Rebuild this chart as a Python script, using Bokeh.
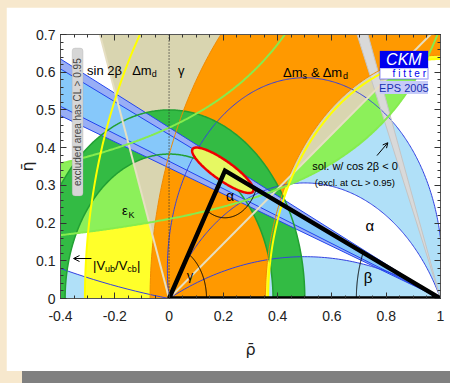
import numpy as np
from bokeh.plotting import figure
from bokeh.models import (Label, Arrow, OpenHead, LinearAxis, FixedTicker,
                          CustomJSTickFormatter, Div, Range1d, BoxAnnotation, Span)
from bokeh.layouts import column
from bokeh.embed import file_html
from bokeh.resources import INLINE

# ---------------- data ----------------
x_ticks = [-0.4, -0.2, 0.0, 0.2, 0.4, 0.6, 0.8, 1.0]
y_ticks = [0.0, 0.1, 0.2, 0.3, 0.4, 0.5, 0.6, 0.7]
x_minor = [-0.4, -0.35, -0.3, -0.25, -0.2, -0.15, -0.1, -0.05, 0.0, 0.05, 0.1, 0.15, 0.2,
           0.25, 0.3, 0.35, 0.4, 0.45, 0.5, 0.55, 0.6, 0.65, 0.7, 0.75, 0.8, 0.85, 0.9, 0.95, 1.0]
y_minor = [0.0, 0.02, 0.04, 0.06, 0.08, 0.1, 0.12, 0.14, 0.16, 0.18, 0.2, 0.22, 0.24, 0.26,
           0.28, 0.3, 0.32, 0.34, 0.36, 0.38, 0.4, 0.42, 0.44, 0.46, 0.48, 0.5, 0.52, 0.54,
           0.56, 0.58, 0.6, 0.62, 0.64, 0.66, 0.68, 0.7]

alpha_bounds_deg = [8.0, 81.0, 117.0, 155.0]      # alpha iso-lines (circles through (0,0),(1,0))
beta_outer_deg = [19.1, 24.4]                     # sin2beta band, outer
beta_inner_deg = [20.0, 23.5]                     # sin2beta band, inner
beta_mirror_deg = [66.3, 69.1]                    # cos2beta<0 solution
gamma_deg = [36.0, 110.0]                         # gamma wedge
dmd_radii = [0.635, 1.31]                         # Delta m_d ring around (1,0)
dms_radii = [0.645, 1.07]                         # Delta m_s & Delta m_d ring around (1,0)
vub_radii = [0.383, 0.50]                         # |Vub/Vcb| ring around (0,0)
epsk_lower = [0.2628, 1.3756, 0.02]               # eta = b/(a-rho)+d
epsk_upper = [0.3337, 1.002, 0.12]
tri_rho = [0.0, 1.0, 0.206]
tri_eta = [0.0, 0.0, 0.339]
fit_center = [0.198, 0.340]
fit_axes = [0.125, 0.028]
fit_angle_deg = -26.0

# colours
C_PAGE = "#f7e8cd"
C_LBLUE = "#b0e0f8"
C_YELLOW = "#ffff2a"
C_LGREEN = "#8cf05a"
C_BEIGE = "#d9d5b0"
C_ORANGE = "#ff9900"
C_DGREEN = "#33bb44"
C_GRAY = "#d9d9d9"
C_BAND_OUT = "#98aef6"
C_BAND_IN = "#86c8fa"
C_BLUELINE = "#3340e0"
FONT = "Liberation Sans"

# ---------------- helpers ----------------
def circ(cx, cy, r, t0=0.0, t1=360.0, n=721):
    t = np.radians(np.linspace(t0, t1, n))
    return cx + r * np.cos(t), cy + r * np.sin(t)

def alpha_circle(a_deg):
    a = np.radians(a_deg)
    return 0.5, 0.5 / np.tan(a), 0.5 / np.sin(a)

def wedge(cx, cy, t0, t1, R=3.0):
    xs, ys = circ(cx, cy, R, t0, t1, 200)
    return np.r_[cx, xs], np.r_[cy, ys]

def epsk(par, rho):
    b, a, d = par
    return b / (a - rho) + d

def epsk_rho_at(par, eta):
    b, a, d = par
    return a - b / (eta - d)

p = figure(width=444, height=364, x_range=Range1d(-0.4, 1.0), y_range=Range1d(0, 0.7),
           output_backend="svg", toolbar_location=None,
           min_border_left=54, min_border_right=10, min_border_top=27, min_border_bottom=73,
           background_fill_color="white", border_fill_color="white",
           margin=(7, 0, 0, 6))
p.grid.visible = False
p.outline_line_color = "#555555"

def patch(x, y, color):
    p.patch(list(x), list(y), fill_color=color, line_color=None)

def ring(cx, cy, r1, r2, color):
    xo, yo = circ(cx, cy, r2)
    xi, yi = circ(cx, cy, r1)
    p.multi_polygons(xs=[[[list(xo), list(xi)]]], ys=[[[list(yo), list(yi)]]],
                     fill_color=color, line_color=None)

# ---------------- fills ----------------
for a_deg, col in zip(alpha_bounds_deg[1:], [C_LBLUE, "white", C_LBLUE]):
    cx, cy, r = alpha_circle(a_deg)
    patch(*circ(cx, cy, r), col)
cx, cy, r = alpha_circle(alpha_bounds_deg[0])
rr = np.linspace(-0.6, 0.0, 200)
ee = cy - np.sqrt(r ** 2 - (rr - cx) ** 2)
patch(np.r_[rr, 0.0, -0.6], np.r_[ee, -0.1, -0.1], C_LBLUE)

ring(1.0, 0.0, dmd_radii[0], dmd_radii[1], C_YELLOW)

rl = np.linspace(-0.6, epsk_rho_at(epsk_lower, 1.2), 400)
ru = np.linspace(epsk_rho_at(epsk_upper, 1.2), -0.6, 400)
patch(np.r_[rl, ru], np.r_[epsk(epsk_lower, rl), epsk(epsk_upper, ru)], C_LGREEN)

patch(*wedge(0.0, 0.0, gamma_deg[0], gamma_deg[1]), C_BEIGE)

ring(1.0, 0.0, dms_radii[0], dms_radii[1], C_ORANGE)

ring(0.0, 0.0, vub_radii[0], vub_radii[1], C_DGREEN)

patch(*wedge(1.0, 0.0, 180 - beta_mirror_deg[1], 180 - beta_mirror_deg[0]), C_GRAY)

patch(*wedge(1.0, 0.0, 180 - beta_outer_deg[1], 180 - beta_outer_deg[0]), C_BAND_OUT)
patch(*wedge(1.0, 0.0, 180 - beta_inner_deg[1], 180 - beta_inner_deg[0]), C_BAND_IN)

# ---------------- contour lines ----------------
for a_deg in alpha_bounds_deg:
    cx, cy, r = alpha_circle(a_deg)
    xs, ys = circ(cx, cy, r)
    p.line(xs, ys, line_color=C_BLUELINE, line_width=1)

for b in beta_outer_deg + beta_inner_deg:
    t = np.radians(180 - b)
    p.line([1.0, 1.0 + 3 * np.cos(t)], [0.0, 3 * np.sin(t)], line_color="#2244ee", line_width=1)
for b in beta_mirror_deg:
    t = np.radians(180 - b)
    p.line([1.0, 1.0 + 3 * np.cos(t)], [0.0, 3 * np.sin(t)], line_color="#c4c4c4", line_width=1)

for r_ in vub_radii:
    p.line(*circ(0.0, 0.0, r_), line_color="#22a033", line_width=1.5)
for r_ in dms_radii:
    p.line(*circ(1.0, 0.0, r_), line_color="#f08a00", line_width=1)
for g in gamma_deg:
    t = np.radians(g)
    p.line([0.0, 3 * np.cos(t)], [0.0, 3 * np.sin(t)], line_color="#e6dfc2", line_width=2)
p.line(rl, epsk(epsk_lower, rl), line_color="#86ec4e", line_width=2)
p.line(ru, epsk(epsk_upper, ru), line_color="#86ec4e", line_width=2)
for r_ in dmd_radii:
    p.line(*circ(1.0, 0.0, r_), line_color="#ffff00", line_width=2)

p.add_layout(Span(location=0.0, dimension="height", line_color="#333333",
                  line_dash="1 2", line_width=1.2, level="glyph"))

# ---------------- global fit ----------------
t = np.linspace(0, 2 * np.pi, 200)
ang = np.radians(fit_angle_deg)
ex = fit_center[0] + fit_axes[0] * np.cos(t) * np.cos(ang) - fit_axes[1] * np.sin(t) * np.sin(ang)
ey = fit_center[1] + fit_axes[0] * np.cos(t) * np.sin(ang) + fit_axes[1] * np.sin(t) * np.cos(ang)
p.patch(list(ex), list(ey), fill_color="#e6f862", line_color="#ee0000", line_width=2.5)

# ---------------- triangle and angles ----------------
p.line(tri_rho + [tri_rho[0]], tri_eta + [tri_eta[0]], line_color="black", line_width=4.5,
       line_join="miter")
ax_, ay_ = tri_rho[2], tri_eta[2]
g_ang = np.degrees(np.arctan2(ay_, ax_))
b_ang = np.degrees(np.arctan2(ay_, 1.0 - ax_))
p.line(*circ(0.0, 0.0, 0.138, 0.0, g_ang, 100), line_color="black", line_width=1)
p.line(*circ(1.0, 0.0, 0.31, 180.0 - b_ang, 180.0, 100), line_color="black", line_width=1)
p.line(*circ(ax_, ay_, 0.125, -180.0 + g_ang, -b_ang, 100), line_color="black", line_width=1)

# ---------------- axes ----------------
fmt = CustomJSTickFormatter(code="return String(Math.round(tick*10)/10);")
blank = CustomJSTickFormatter(code="return '';")
xt = FixedTicker(ticks=x_ticks, minor_ticks=x_minor)
yt = FixedTicker(ticks=y_ticks, minor_ticks=y_minor)

def style_axis(ax, labels=True):
    ax.major_tick_in = 6
    ax.major_tick_out = 0
    ax.minor_tick_in = 3
    ax.minor_tick_out = 0
    ax.axis_line_color = "#555555"
    ax.major_tick_line_color = "#333333"
    ax.minor_tick_line_color = "#333333"
    if labels:
        ax.formatter = fmt
        ax.major_label_text_font = FONT
        ax.major_label_text_font_size = "14px"
        ax.major_label_text_color = "#222222"
        ax.axis_label_text_font = "DejaVu Sans"
        ax.axis_label_text_font_size = "16px"
        ax.axis_label_text_font_style = "normal"
        ax.axis_label_text_color = "#222222"
    else:
        ax.formatter = blank
        ax.major_label_text_font_size = "1px"
        ax.major_label_standoff = 0

p.xaxis.ticker = xt
p.yaxis.ticker = yt
for ax in p.xaxis:
    style_axis(ax)
    ax.major_label_standoff = 12
    ax.axis_label = "ρ̄"
    ax.axis_label_standoff = 16
for ax in p.yaxis:
    style_axis(ax)
    ax.major_label_standoff = 5
    ax.axis_label = "η̄"
    ax.axis_label_standoff = -4
top = LinearAxis(ticker=xt)
style_axis(top, labels=False)
p.add_layout(top, "above")
right = LinearAxis(ticker=yt)
style_axis(right, labels=False)
p.add_layout(right, "right")

# ---------------- annotations ----------------
def put(x, y, text, size=13, dx=0, dy=0, align="left", baseline="alphabetic",
        color="black", font=FONT, style="normal", angle=0.0):
    p.add_layout(Label(x=x, y=y, text=text, x_offset=dx, y_offset=dy,
                       text_font_size=f"{size}px", text_align=align, text_baseline=baseline,
                       text_color=color, text_font=font, text_font_style=style, angle=angle))

p.add_layout(BoxAnnotation(left=-0.357, right=-0.317, top=0.664, bottom=0.272,
                           fill_color="#d6d6d6", fill_alpha=1.0, line_color="#a8a8a8",
                           line_width=1, border_radius=3))
put(-0.337, 0.468, "excluded area has CL > 0.95", size=10, align="center",
    baseline="middle", color="#444444", angle=np.pi / 2)

p.add_layout(BoxAnnotation(left=0.777, right=0.954, top=0.656, bottom=0.611,
                           fill_color="#0000ee", fill_alpha=1.0, line_color="#0000ee"))
p.add_layout(BoxAnnotation(left=0.777, right=0.954, top=0.611, bottom=0.582,
                           fill_color="white", fill_alpha=1.0, line_color="#0000ee",
                           line_width=1.5))
p.add_layout(BoxAnnotation(left=0.777, right=0.954, top=0.577, bottom=0.542,
                           fill_color="#c6cbf8", fill_alpha=1.0, line_color=None))
put(0.865, 0.633, "CKM", size=16, align="center", baseline="middle", color="white",
    style="italic")
put(0.885, 0.596, "f i t t e r", size=10, align="center", baseline="middle", color="#0000ee")
put(0.865, 0.559, "EPS 2005", size=11, align="center", baseline="middle", color="#1a2fb0")

put(-0.302, 0.605, "sin 2β")
put(-0.136, 0.605, "Δm")
put(-0.136, 0.605, "d", size=9, dx=19.5, dy=-4)
put(0.033, 0.605, "γ")
put(0.42, 0.600, "Δm")
put(0.42, 0.600, "s", size=9, dx=19.5, dy=-4)
put(0.42, 0.600, "& Δm", dx=28)
put(0.42, 0.600, "d", size=9, dx=60, dy=-4)
put(-0.173, 0.233, "ε")
put(-0.173, 0.233, "K", size=9, dx=6.5, dy=-4)
put(-0.28, 0.088, "|V")
put(-0.28, 0.088, "ub", size=9, dx=12, dy=-4)
put(-0.28, 0.088, "/V", dx=22)
put(-0.28, 0.088, "cb", size=9, dx=34.3, dy=-4)
put(-0.28, 0.088, "|", dx=44)
p.add_layout(Arrow(end=OpenHead(size=6, line_width=1), x_start=-0.286, y_start=0.106,
                   x_end=-0.352, y_end=0.106, line_width=1))
put(0.74, 0.194, "α", size=15, align="center", baseline="middle")
put(0.225, 0.273, "α", size=14, align="center", baseline="middle")
put(0.733, 0.056, "β", size=15, align="center", baseline="middle")
put(0.077, 0.062, "γ", size=13, align="center", baseline="middle")
put(0.685, 0.352, "sol. w/ cos 2β < 0", size=11, align="center", baseline="middle")
put(0.685, 0.307, "(excl. at CL > 0.95)", size=9.5, align="center", baseline="middle")
p.add_layout(Arrow(end=OpenHead(size=5, line_width=1), x_start=0.766, y_start=0.379,
                   x_end=0.806, y_end=0.413, line_width=1))

bar = Div(text="", width=428, height=12, styles={"background-color": "#808080"},
          margin=(0, 0, 0, 22))
layout = column(p, bar, styles={"background-color": C_PAGE})
open("out.html", "w").write(file_html(layout, INLINE))
